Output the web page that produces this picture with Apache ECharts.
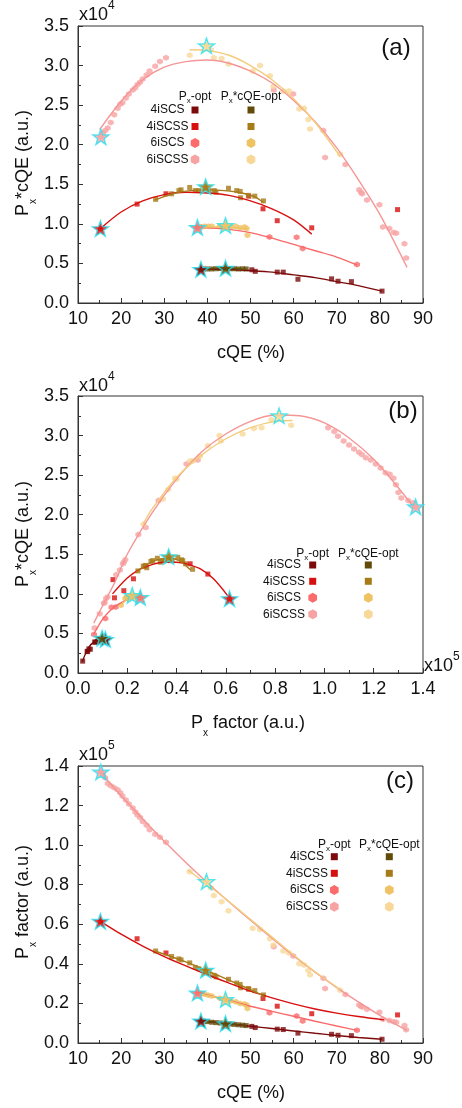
<!DOCTYPE html>
<html>
<head>
<meta charset="utf-8">
<script src="https://cdn.jsdelivr.net/npm/echarts@6/dist/echarts.min.js"></script>
<style>
  html, body { margin: 0; padding: 0; background: #ffffff; }
  #chart { width: 462px; height: 1108px; }
</style>
</head>
<body>
<div id="chart"></div>
<script>
// ---------------- measured points: [cQE (%), Px factor (x10^5), Px*cQE (x10^4)] ----------------
const pxOpt_4iSCS = [
  [38.5, 0.111, 0.425], [50.3, 0.084, 0.42], [51.1, 0.078, 0.40], [56.2, 0.070, 0.39],
  [57.6, 0.068, 0.39], [61.0, 0.050, 0.30], [68.8, 0.044, 0.305], [70.3, 0.039, 0.275],
  [73.4, 0.037, 0.27], [80.5, 0.019, 0.15]
];
const pxOpt_4iSCSS = [
  [15.2, 0.615, 0.94], [23.7, 0.527, 1.25], [30.4, 0.455, 1.38], [49.6, 0.272, 1.35],
  [52.9, 0.225, 1.19], [56.2, 0.186, 1.04], [64.2, 0.148, 0.95], [84.1, 0.142, 1.18]
];
const pxOpt_6iSCS = [
  [37.7, 0.253, 0.955], [38.6, 0.249, 0.96], [54.4, 0.153, 0.835], [60.7, 0.136, 0.83],
  [62.1, 0.111, 0.69], [74.7, 0.065, 0.485]
];
const pxOpt_6iSCSS = [
  [15.3, 1.370, 2.10], [15.8, 1.360, 2.15], [16.3, 1.340, 2.18], [16.9, 1.312, 2.21],
  [17.6, 1.300, 2.28], [18.4, 1.290, 2.38], [19.2, 1.280, 2.46], [19.8, 1.265, 2.51],
  [20.3, 1.248, 2.53], [21.1, 1.228, 2.59], [21.8, 1.208, 2.64], [22.7, 1.188, 2.69],
  [23.3, 1.168, 2.72], [23.8, 1.152, 2.76], [24.4, 1.140, 2.79], [25.0, 1.120, 2.83],
  [25.9, 1.100, 2.88], [26.6, 1.078, 2.93], [27.9, 1.055, 2.99], [29.0, 1.040, 3.05],
  [30.4, 1.015, 3.10],
  [55.4, 0.486, 2.69], [59.9, 0.440, 2.64], [66.9, 0.327, 2.18], [67.3, 0.275, 1.84],
  [72.0, 0.245, 1.75], [75.2, 0.192, 1.43], [75.6, 0.186, 1.40], [75.9, 0.182, 1.38],
  [77.0, 0.170, 1.30], [79.9, 0.155, 1.24], [80.7, 0.120, 0.96], [82.2, 0.114, 0.94],
  [83.2, 0.108, 0.89], [83.8, 0.105, 0.88], [85.7, 0.088, 0.75], [86.1, 0.067, 0.57]
];
const pcOpt_4iSCS = [
  [39.0, 0.111, 0.43], [40.0, 0.108, 0.43], [41.0, 0.105, 0.43], [42.0, 0.103, 0.433],
  [43.0, 0.101, 0.435], [44.2, 0.098, 0.44], [45.2, 0.096, 0.433], [46.2, 0.094, 0.433],
  [47.2, 0.092, 0.43], [48.2, 0.090, 0.432], [49.0, 0.088, 0.43]
];
const pcOpt_4iSCSS = [
  [28.0, 0.465, 1.31], [31.7, 0.437, 1.38], [33.4, 0.425, 1.42], [33.9, 0.420, 1.43],
  [35.9, 0.405, 1.46], [37.2, 0.382, 1.42], [38.0, 0.375, 1.42], [39.6, 0.368, 1.47],
  [40.4, 0.352, 1.42], [41.6, 0.342, 1.42], [42.0, 0.334, 1.40], [44.9, 0.322, 1.45],
  [46.8, 0.303, 1.42], [47.6, 0.296, 1.41], [47.7, 0.279, 1.33], [49.5, 0.275, 1.36],
  [51.0, 0.265, 1.35], [53.0, 0.243, 1.29]
];
const pcOpt_6iSCS = [
  [38.3, 0.251, 0.96], [39.4, 0.246, 0.97], [40.2, 0.241, 0.97], [41.0, 0.237, 0.97],
  [42.9, 0.226, 0.97], [44.2, 0.220, 0.98], [45.4, 0.212, 0.96], [46.6, 0.208, 0.97],
  [47.6, 0.200, 0.95], [48.6, 0.197, 0.96], [49.1, 0.192, 0.94], [49.3, 0.174, 0.855]
];
const pcOpt_6iSCSS = [
  [35.9, 0.865, 3.13], [39.8, 0.816, 3.25], [40.8, 0.785, 3.20], [41.5, 0.745, 3.10],
  [43.3, 0.714, 3.09], [44.9, 0.668, 3.02], [50.5, 0.580, 2.93], [52.2, 0.574, 3.00],
  [54.5, 0.527, 2.87], [55.3, 0.495, 2.74], [57.6, 0.465, 2.68], [58.9, 0.455, 2.68],
  [61.3, 0.400, 2.45], [62.4, 0.394, 2.46], [63.4, 0.366, 2.32], [63.8, 0.345, 2.20],
  [70.8, 0.266, 1.88]
];

// ---------------- fitted curves, panel (a): [cQE, Px*cQE] ----------------
const fitA_pxOpt_4iSCS  = [[38.3,0.43],[45,0.425],[50,0.41],[55,0.39],[60,0.355],[65,0.32],[70,0.27],[75,0.22],[80.5,0.15]];
const fitA_pxOpt_4iSCSS = [[15.2,0.94],[20,1.15],[25,1.29],[30,1.37],[35,1.40],[40,1.39],[45,1.36],[50,1.29],[55,1.19],[60,1.05],[64.2,0.87]];
const fitA_pxOpt_6iSCS  = [[37.6,0.96],[45,0.93],[50,0.89],[55,0.82],[60,0.74],[65,0.66],[70,0.58],[74.7,0.48]];
const fitA_pxOpt_6iSCSS = [[15,2.19],[20,2.55],[25,2.82],[30,2.98],[35,3.05],[40,3.07],[45,3.03],[50,2.93],[55,2.78],[60,2.56],[65,2.29],[70,1.96],[75,1.56],[80,1.12],[86.3,0.45]];
const fitA_pcOpt_4iSCS  = [[38.5,0.43],[44,0.435],[49,0.425]];
const fitA_pcOpt_4iSCSS = [[27.8,1.30],[32,1.38],[36,1.42],[40,1.43],[44,1.42],[48,1.39],[51,1.34],[53,1.27]];
const fitA_pcOpt_6iSCS  = [[37.5,0.96],[43,0.96],[49.3,0.93]];
const fitA_pcOpt_6iSCSS = [[35.9,3.20],[40,3.19],[45,3.13],[50,3.00],[55,2.82],[60,2.58],[65,2.28],[70.8,1.85]];

// ---------------- fitted curves, panel (b): [Px factor, Px*cQE] ----------------
const fitB_pxOpt_4iSCS  = [[0.017,0.14],[0.03,0.24],[0.045,0.33],[0.06,0.38],[0.08,0.41],[0.111,0.43]];
const fitB_pxOpt_4iSCSS = [[0.14,1.0],[0.2,1.2],[0.25,1.31],[0.3,1.37],[0.35,1.40],[0.4,1.40],[0.45,1.37],[0.5,1.31],[0.55,1.19],[0.614,0.95]];
const fitB_pxOpt_6iSCS  = [[0.064,0.49],[0.1,0.68],[0.134,0.80],[0.17,0.88],[0.21,0.94],[0.25,0.965]];
const fitB_pxOpt_6iSCSS = [[0.064,0.63],[0.1,0.85],[0.15,1.15],[0.2,1.50],[0.3,2.02],[0.4,2.45],[0.5,2.79],[0.6,3.02],[0.7,3.18],[0.8,3.26],[0.9,3.25],[1.0,3.16],[1.1,2.97],[1.2,2.70],[1.3,2.34],[1.365,2.08]];
const fitB_pcOpt_4iSCS  = [[0.088,0.43],[0.1,0.435],[0.111,0.43]];
const fitB_pcOpt_4iSCSS = [[0.235,1.27],[0.28,1.37],[0.32,1.43],[0.37,1.45],[0.41,1.42],[0.457,1.30]];
const fitB_pcOpt_6iSCS  = [[0.174,0.86],[0.2,0.93],[0.225,0.96],[0.25,0.965]];
const fitB_pcOpt_6iSCSS = [[0.264,1.88],[0.3,2.07],[0.4,2.47],[0.5,2.75],[0.6,2.96],[0.7,3.10],[0.8,3.18],[0.87,3.19]];

// ---------------- fitted curves, panel (c): [cQE, Px factor] ----------------
const fitC_pxOpt_4iSCS  = [[38.5,0.112],[45,0.097],[50,0.085],[55,0.073],[60,0.061],[65,0.049],[70,0.038],[75,0.028],[80.5,0.019]];
const fitC_pxOpt_4iSCSS = [[15.2,0.615],[20,0.55],[25,0.49],[30,0.437],[35,0.39],[40,0.345],[45,0.303],[50,0.262],[55,0.228],[60,0.198],[65,0.172],[70,0.151],[75,0.134],[81,0.117]];
const fitC_pxOpt_6iSCS  = [[37.6,0.255],[45,0.215],[50,0.186],[55,0.16],[60,0.135],[65,0.11],[70,0.086],[74.7,0.064]];
const fitC_pxOpt_6iSCSS = [[15.2,1.37],[20,1.25],[30,1.02],[40,0.81],[50,0.62],[60,0.44],[70,0.28],[80,0.14],[86.3,0.064]];
const fitC_pcOpt_4iSCS  = [[38.5,0.112],[44,0.099],[49,0.088]];
const fitC_pcOpt_4iSCSS = [[27.8,0.465],[35,0.41],[40,0.365],[45,0.318],[53,0.24]];
const fitC_pcOpt_6iSCS  = [[38,0.25],[44,0.219],[49.3,0.185]];
const fitC_pcOpt_6iSCSS = [[35.5,0.875],[40,0.80],[45,0.715],[50,0.625],[55,0.535],[60,0.445],[65,0.36],[70.8,0.27]];

const materials = ['4iSCS', '4iSCSS', '6iSCS', '6iSCSS'];

// ---------------- styling ----------------
const FONT = '"Liberation Sans", Arial, Helvetica, sans-serif';
const INK = '#111111';
const FRAME = '#333333';
const COL_PX = ['#7c0a0a', '#d80f0f', '#fb6b6b', '#f8a3a3'];
const COL_PC = ['#624a08', '#a67b18', '#efc263', '#f7d898'];
const LINE_PX = ['#7c0a0a', '#d80f0f', '#f86a6a', '#f59696'];
const LINE_PC = ['#624a08', '#a67b18', '#efc263', '#f3cc7e'];
const HEX = 'path://M0,-10L8.66,-5L8.66,5L0,10L-8.66,5L-8.66,-5Z';
const STAR = 'path://M0,-10L2.35,-3.24L9.51,-3.09L3.8,1.24L5.88,8.09L0,4L-5.88,8.09L-3.8,1.24L-9.51,-3.09L-2.35,-3.24Z';

// column 1 = Px factor (Px-opt series), column 2 = Px*cQE (Px*cQE-opt series)
const sets = [
  { rows: pxOpt_4iSCS,  opt: 1, color: COL_PX[0], line: LINE_PX[0], sym: 'rect', fits: [fitA_pxOpt_4iSCS, fitB_pxOpt_4iSCS, fitC_pxOpt_4iSCS] },
  { rows: pxOpt_4iSCSS, opt: 1, color: COL_PX[1], line: LINE_PX[1], sym: 'rect', fits: [fitA_pxOpt_4iSCSS, fitB_pxOpt_4iSCSS, fitC_pxOpt_4iSCSS] },
  { rows: pxOpt_6iSCS,  opt: 1, color: COL_PX[2], line: LINE_PX[2], sym: 'hex',  fits: [fitA_pxOpt_6iSCS, fitB_pxOpt_6iSCS, fitC_pxOpt_6iSCS] },
  { rows: pxOpt_6iSCSS, opt: 1, color: COL_PX[3], line: LINE_PX[3], sym: 'hex',  fits: [fitA_pxOpt_6iSCSS, fitB_pxOpt_6iSCSS, fitC_pxOpt_6iSCSS] },
  { rows: pcOpt_4iSCS,  opt: 2, color: COL_PC[0], line: LINE_PC[0], sym: 'rect', fits: [fitA_pcOpt_4iSCS, fitB_pcOpt_4iSCS, fitC_pcOpt_4iSCS] },
  { rows: pcOpt_4iSCSS, opt: 2, color: COL_PC[1], line: LINE_PC[1], sym: 'rect', fits: [fitA_pcOpt_4iSCSS, fitB_pcOpt_4iSCSS, fitC_pcOpt_4iSCSS] },
  { rows: pcOpt_6iSCS,  opt: 2, color: COL_PC[2], line: LINE_PC[2], sym: 'hex',  fits: [fitA_pcOpt_6iSCS, fitB_pcOpt_6iSCS, fitC_pcOpt_6iSCS] },
  { rows: pcOpt_6iSCSS, opt: 2, color: COL_PC[3], line: LINE_PC[3], sym: 'hex',  fits: [fitA_pcOpt_6iSCSS, fitB_pcOpt_6iSCSS, fitC_pcOpt_6iSCSS] }
];

// which data columns each panel plots: (a) cQE vs Px*cQE, (b) Px vs Px*cQE, (c) cQE vs Px
const panelCols = [[0, 2], [1, 2], [0, 1]];
const gridTops = [26, 396, 766];
const GRID_H = 277;

function argmax(rows, col) {
  let best = 0;
  rows.forEach((r, i) => { if (r[col] > rows[best][col]) best = i; });
  return best;
}

function axisBase(gridIndex, min, max, interval, digits) {
  return {
    type: 'value', gridIndex, min, max, interval,
    axisLine: { show: true, onZero: false, lineStyle: { color: FRAME, width: 1 } },
    axisTick: { show: true, inside: true, length: 5, lineStyle: { color: FRAME, width: 1 } },
    minorTick: { show: true, splitNumber: 2, length: 3, lineStyle: { color: FRAME, width: 1 } },
    splitLine: { show: false },
    minorSplitLine: { show: false },
    axisLabel: {
      fontSize: 18, color: INK, fontFamily: FONT,
      formatter: v => v.toFixed(digits)
    }
  };
}

const grids = gridTops.map(t => ({
  left: 78, right: 39, top: t, height: GRID_H,
  show: true, borderColor: FRAME, borderWidth: 1, backgroundColor: 'transparent'
}));

const xAxes = [
  Object.assign(axisBase(0, 10, 90, 10, 0), {}),
  Object.assign(axisBase(1, 0, 1.4, 0.2, 1), {}),
  Object.assign(axisBase(2, 10, 90, 10, 0), {})
];
xAxes.forEach(a => { a.axisLabel.margin = 7; });
const yAxes = [
  axisBase(0, 0, 3.5, 0.5, 1),
  axisBase(1, 0, 3.5, 0.5, 1),
  axisBase(2, 0, 1.4, 0.2, 1)
];
yAxes.forEach(a => { a.axisLabel.margin = 9; });

const series = [];
panelCols.forEach((cols, p) => {
  sets.forEach(s => {
    series.push({
      type: 'scatter', xAxisIndex: p, yAxisIndex: p, silent: true, z: 2,
      symbol: s.sym === 'rect' ? 'rect' : HEX,
      symbolSize: s.sym === 'rect' ? 5 : 6,
      itemStyle: { color: s.color },
      data: s.rows.map(r => [r[cols[0]], r[cols[1]]])
    });
  });
  sets.forEach(s => {
    series.push({
      type: 'line', xAxisIndex: p, yAxisIndex: p, silent: true, z: 3,
      smooth: 0.3, showSymbol: false, symbol: 'none',
      lineStyle: { color: s.line, width: 1.4 },
      data: s.fits[p]
    });
  });
  series.push({
    type: 'scatter', xAxisIndex: p, yAxisIndex: p, silent: true, z: 5,
    symbol: STAR, symbolSize: 16, symbolKeepAspect: true,
    itemStyle: { borderColor: '#27e2f2', borderWidth: 1.4 },
    data: sets.map(s => {
      const r = s.rows[argmax(s.rows, s.opt)];
      return { value: [r[cols[0]], r[cols[1]]], itemStyle: { color: s.color } };
    })
  });
});

// ---------------- annotations ----------------
const nameRich = {
  m: { fontSize: 18, fontFamily: FONT, fill: INK, lineHeight: 30, verticalAlign: 'middle' },
  s: { fontSize: 10, fontFamily: FONT, fill: INK, verticalAlign: 'bottom' }
};
const powRich = {
  m: { fontSize: 18, fontFamily: FONT, fill: INK, lineHeight: 30, verticalAlign: 'middle' },
  p: { fontSize: 12, fontFamily: FONT, fill: INK, verticalAlign: 'top' }
};
const legRich = {
  m: { fontSize: 12, fontFamily: FONT, fill: INK, lineHeight: 16, verticalAlign: 'middle' },
  s: { fontSize: 8, fontFamily: FONT, fill: INK, verticalAlign: 'bottom' }
};

function richText(x, y, text, rich, align, rotation) {
  return {
    type: 'text', x, y, rotation: rotation || 0, silent: true, z: 10,
    style: { text, rich, align, verticalAlign: 'middle', fill: INK, fontFamily: FONT }
  };
}
function plainText(x, y, text, size, align) {
  return {
    type: 'text', x, y, silent: true, z: 10,
    style: { text, fontSize: size, fontFamily: FONT, fill: INK, align, verticalAlign: 'middle' }
  };
}
const HEX_PTS = [[0, -5], [4.33, -2.5], [4.33, 2.5], [0, 5], [-4.33, 2.5], [-4.33, -2.5]];
function glyph(x, y, i, color) {
  if (i < 2) {
    return { type: 'rect', x: x - 3.5, y: y - 3.5, silent: true, z: 10,
      shape: { x: 0, y: 0, width: 7, height: 7 }, style: { fill: color } };
  }
  return { type: 'polygon', x, y, silent: true, z: 10,
    shape: { points: HEX_PTS }, style: { fill: color } };
}
function legendBlock(labelX, leftX, rightX, headY, rowYs) {
  const els = [
    richText(leftX, headY, '{m|P}{s|x}{m|-opt}', legRich, 'center'),
    richText(rightX, headY, '{m|P}{s|x}{m|*cQE-opt}', legRich, 'center')
  ];
  materials.forEach((m, i) => {
    els.push(plainText(labelX, rowYs[i], m, 12, 'center'));
    els.push(glyph(leftX, rowYs[i], i, COL_PX[i]));
    els.push(glyph(rightX, rowYs[i], i, COL_PC[i]));
  });
  return els;
}

const graphics = [].concat(
  // panel letters
  plainText(396, 48, '(a)', 24, 'center'),
  plainText(403, 411, '(b)', 24, 'center'),
  plainText(400, 781, '(c)', 24, 'center'),
  // scale multipliers
  richText(79, 15, '{m|x10}{p|4}', powRich, 'left'),
  richText(79, 386, '{m|x10}{p|4}', powRich, 'left'),
  richText(424, 666, '{m|x10}{p|5}', powRich, 'left'),
  richText(79, 755, '{m|x10}{p|5}', powRich, 'left'),
  // axis titles
  richText(251, 353, '{m|cQE (%)}', nameRich, 'center'),
  richText(248, 723, '{m|P}{s|x}{m| factor (a.u.)}', nameRich, 'center'),
  richText(251, 1093, '{m|cQE (%)}', nameRich, 'center'),
  richText(23, 163, '{m|P}{s|x}{m|*cQE (a.u.)}', nameRich, 'center', Math.PI / 2),
  richText(23, 534, '{m|P}{s|x}{m|*cQE (a.u.)}', nameRich, 'center', Math.PI / 2),
  richText(23, 902, '{m|P}{s|x}{m| factor (a.u.)}', nameRich, 'center', Math.PI / 2),
  // legends
  legendBlock(167.6, 195, 251, 97, [110, 126.5, 143, 159.5]),
  legendBlock(284, 312.7, 368.3, 553.3, [565, 581.3, 597.7, 614.3]),
  legendBlock(307, 334.3, 389.3, 844.3, [856.7, 873.3, 890, 906.7])
);

const chart = echarts.init(document.getElementById('chart'), null, { renderer: 'canvas' });
chart.setOption({
  animation: false,
  backgroundColor: '#ffffff',
  grid: grids,
  xAxis: xAxes,
  yAxis: yAxes,
  series,
  graphic: { elements: graphics }
});
</script>
</body>
</html>
